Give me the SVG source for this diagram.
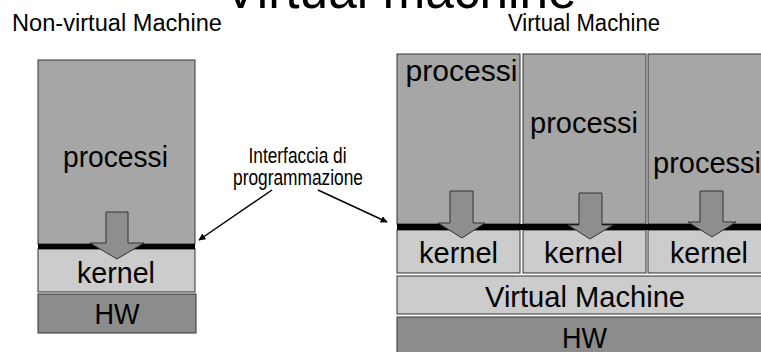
<svg xmlns="http://www.w3.org/2000/svg" width="761" height="352" viewBox="0 0 761 352">
<style>
text{font-family:"Liberation Sans",Arial,sans-serif;fill:#000;text-anchor:middle}
.proc{fill:#a6a6a6;stroke:#333;stroke-width:1}
.kern{fill:#cccccc;stroke:#333;stroke-width:1}
.hw{fill:#8c8c8c;stroke:#333;stroke-width:1}
.bar{fill:#000}
.arr{fill:#8e8e8e;stroke:#333;stroke-width:1}
.big{font-size:29px}
.lbl{font-size:23px}
.conn{stroke:#000;stroke-width:1.5;fill:none}
</style>
<defs>
<marker id="ah" viewBox="0 0 10 10" refX="9" refY="5" markerWidth="7" markerHeight="7" markerUnits="userSpaceOnUse" orient="auto">
<path d="M0,0 L10,5 L0,10 z" fill="#000"/>
</marker>
</defs>
<text id="title" x="400" y="8" style="font-size:54px" textLength="353" lengthAdjust="spacingAndGlyphs">Virtual machine</text>
<text id="lbl-nonvirtual" class="lbl" x="117" y="31" textLength="210" lengthAdjust="spacingAndGlyphs">Non-virtual Machine</text>
<text id="lbl-virtual" class="lbl" x="584" y="31" textLength="152" lengthAdjust="spacingAndGlyphs">Virtual Machine</text>

<g id="left-processi">
<rect class="proc" x="38" y="60" width="157" height="184"/>
<text class="big" x="115.5" y="167" textLength="105" lengthAdjust="spacingAndGlyphs">processi</text>
</g>
<g id="left-kernel">
<rect class="kern" x="38" y="249" width="157" height="43"/>
<text class="big" x="116" y="283" textLength="78" lengthAdjust="spacingAndGlyphs">kernel</text>
</g>
<g id="left-hw">
<rect class="hw" x="38" y="294" width="158" height="39"/>
<text class="big" x="117" y="324" textLength="45" lengthAdjust="spacingAndGlyphs">HW</text>
</g>
<rect id="left-interface" class="bar" x="38" y="244" width="157" height="5"/>
<polygon id="left-arrow" class="arr" points="106,212 128,212 128,243 144,243 117,259 90,243 106,243"/>

<g id="vm-processi-1">
<rect class="proc" x="397" y="54" width="123" height="170"/>
<text class="big" x="461.5" y="81" textLength="112" lengthAdjust="spacingAndGlyphs">processi</text>
</g>
<g id="vm-processi-2">
<rect class="proc" x="523" y="54" width="123" height="170"/>
<text class="big" x="584" y="133" textLength="108" lengthAdjust="spacingAndGlyphs">processi</text>
</g>
<g id="vm-processi-3">
<rect class="proc" x="648" y="54" width="124" height="170"/>
<text class="big" x="707" y="173" textLength="108" lengthAdjust="spacingAndGlyphs">processi</text>
</g>
<g id="vm-kernel-1">
<rect class="kern" x="397" y="230" width="123" height="43"/>
<text class="big" x="458.5" y="263" textLength="79" lengthAdjust="spacingAndGlyphs">kernel</text>
</g>
<g id="vm-kernel-2">
<rect class="kern" x="523" y="230" width="123" height="43"/>
<text class="big" x="583.5" y="263" textLength="79" lengthAdjust="spacingAndGlyphs">kernel</text>
</g>
<g id="vm-kernel-3">
<rect class="kern" x="648" y="230" width="124" height="43"/>
<text class="big" x="709" y="263" textLength="78" lengthAdjust="spacingAndGlyphs">kernel</text>
</g>
<rect id="vm-interface" class="bar" x="397" y="224" width="375" height="6"/>
<g id="vm-layer">
<rect class="kern" x="397" y="276" width="375" height="38"/>
<text class="big" x="585" y="307" textLength="200" lengthAdjust="spacingAndGlyphs">Virtual Machine</text>
</g>
<g id="vm-hw">
<rect class="hw" x="397" y="317" width="375" height="40"/>
<text class="big" x="584.5" y="348" textLength="45" lengthAdjust="spacingAndGlyphs">HW</text>
</g>
<polygon id="vm-arrow-1" class="arr" points="450,191 473,191 473,223 485,223 462,238 438,223 450,223"/>
<polygon id="vm-arrow-2" class="arr" points="579,193 602,193 602,225 613,225 590,239 568,225 579,225"/>
<polygon id="vm-arrow-3" class="arr" points="700,191 723,191 723,222 736,222 712,237 688,222 700,222"/>

<g id="interface-label">
<text x="297.5" y="163" style="font-size:22px" textLength="98" lengthAdjust="spacingAndGlyphs">Interfaccia di</text>
<text x="298" y="185" style="font-size:22px" textLength="130" lengthAdjust="spacingAndGlyphs">programmazione</text>
</g>
<g id="connectors">
<line class="conn" x1="272" y1="190" x2="199" y2="240" marker-end="url(#ah)"/>
<line class="conn" x1="318" y1="190" x2="387" y2="222" marker-end="url(#ah)"/>
</g>
</svg>
